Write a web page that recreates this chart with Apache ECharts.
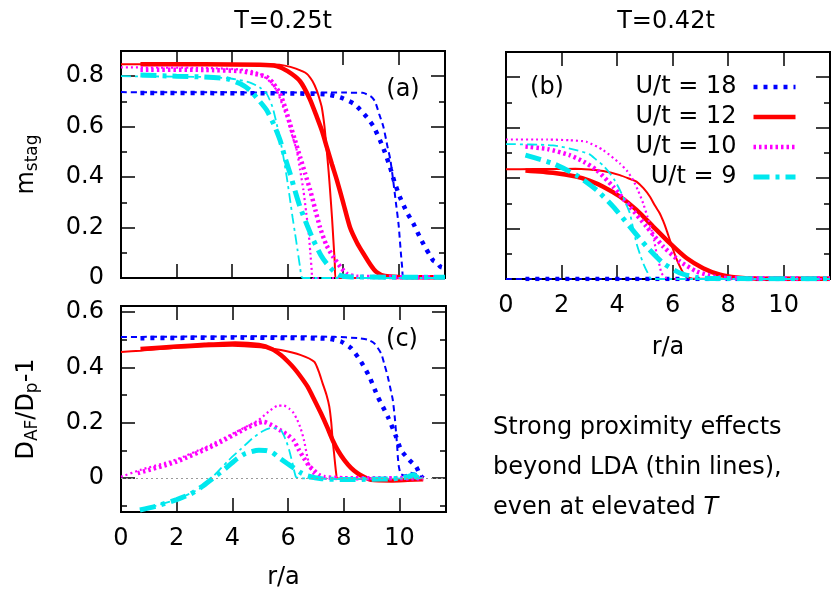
<!DOCTYPE html>
<html>
<head>
<meta charset="utf-8">
<script src="https://cdn.jsdelivr.net/npm/echarts@6.0.0/dist/echarts.min.js"></script>
<style>
  html, body { margin: 0; padding: 0; background: #fff; }
  #chart { width: 831px; height: 591px; }
</style>
</head>
<body>
<div id="chart"></div>
<script>
// ---- data: [r/a, value] ----
// (a) m_stag, T=0.25t
const aU18thick = [[0.7,0.733],[3,0.733],[6,0.732],[7.4,0.728],[7.9,0.716],[8.4,0.69],[8.85,0.638],[9.1,0.6],[9.33,0.546],[9.5,0.5],[9.69,0.44],[9.85,0.38],[10.05,0.32],[10.3,0.26],[10.53,0.216],[10.75,0.165],[10.95,0.123],[11.1,0.095],[11.24,0.07],[11.4,0.06],[11.5,0.045],[11.67,0.04]]
const aU18thin = [[0,0.737],[2,0.736],[4,0.736],[6,0.735],[8,0.735],[8.7,0.734],[9.0,0.72],[9.15,0.7],[9.3,0.65],[9.45,0.6],[9.6,0.52],[9.7,0.47],[9.8,0.39],[9.9,0.3],[10.0,0.21],[10.08,0.1],[10.13,0.04],[10.18,0],[11.67,0]]
const aU12thick = [[0.7,0.847],[3,0.847],[5,0.845],[5.6,0.84],[6.0,0.82],[6.45,0.78],[6.8,0.71],[7.05,0.64],[7.25,0.58],[7.41,0.52],[7.6,0.45],[7.77,0.39],[8.0,0.3],[8.25,0.2],[8.5,0.14],[8.73,0.097],[9.0,0.05],[9.2,0.024],[9.5,0.008],[10,0.004],[11.67,0.003]]
const aU12thin = [[0,0.847],[3,0.847],[5.5,0.846],[5.9,0.842],[6.3,0.83],[6.69,0.81],[6.9,0.78],[7.05,0.744],[7.15,0.71],[7.23,0.678],[7.33,0.6],[7.41,0.506],[7.48,0.42],[7.53,0.348],[7.6,0.24],[7.65,0.15],[7.7,0.06],[7.73,0],[11.67,0]]
const aU10thick = [[0.7,0.826],[3,0.825],[4.3,0.82],[4.8,0.81],[5.25,0.797],[5.5,0.77],[5.73,0.73],[5.9,0.68],[6.09,0.61],[6.27,0.545],[6.45,0.48],[6.63,0.415],[6.81,0.35],[7.0,0.27],[7.17,0.2],[7.4,0.13],[7.65,0.083],[7.9,0.045],[8.13,0.017],[8.5,0.005],[11.67,0.003]]
const aU10thin = [[0,0.835],[3,0.833],[4.5,0.825],[5.0,0.81],[5.3,0.785],[5.61,0.744],[5.8,0.69],[5.97,0.638],[6.15,0.57],[6.33,0.506],[6.45,0.43],[6.57,0.348],[6.67,0.26],[6.75,0.189],[6.82,0.1],[6.87,0.03],[6.9,0],[11.67,0]]
const aU9thick = [[0.7,0.805],[2,0.8],[3.0,0.797],[3.81,0.79],[4.3,0.77],[4.65,0.744],[5.0,0.7],[5.25,0.665],[5.5,0.61],[5.73,0.546],[5.9,0.48],[6.09,0.414],[6.27,0.345],[6.45,0.281],[6.7,0.21],[6.93,0.15],[7.2,0.09],[7.41,0.057],[7.65,0.028],[7.89,0.01],[8.3,0.004],[11.67,0.003]]
const aU9thin = [[0,0.8],[3,0.797],[4.0,0.79],[4.65,0.775],[5.0,0.755],[5.25,0.73],[5.45,0.68],[5.61,0.61],[5.75,0.54],[5.85,0.48],[5.97,0.4],[6.09,0.31],[6.18,0.24],[6.27,0.176],[6.36,0.11],[6.45,0.044],[6.55,0],[11.67,0]]

// (b) m_stag, T=0.42t
const bU18thick = [[0.7,0],[11.67,0]]
const bU18thin = [[0,0],[11.67,0]]
const bU12thick = [[0.7,0.43],[1.69,0.421],[2.53,0.406],[3.0,0.39],[3.5,0.366],[4.1,0.327],[4.7,0.274],[5.3,0.208],[5.9,0.142],[6.5,0.083],[7.1,0.043],[7.71,0.017],[8.3,0.006],[9,0.002],[11.67,0.001]]
const bU12thin = [[0,0.435],[1,0.436],[1.69,0.436],[2.5,0.437],[3.0,0.434],[3.5,0.428],[4.1,0.412],[4.5,0.395],[4.7,0.386],[4.95,0.36],[5.18,0.327],[5.37,0.29],[5.54,0.26],[5.66,0.23],[5.78,0.195],[5.9,0.155],[6.02,0.116],[6.14,0.08],[6.26,0.05],[6.38,0.025],[6.5,0.01],[6.7,0.002],[11.67,0]]
const bU10thick = [[0.7,0.525],[1.5,0.515],[2.29,0.491],[2.8,0.465],[3.26,0.432],[3.86,0.366],[4.46,0.287],[5.06,0.208],[5.66,0.129],[6.26,0.07],[6.87,0.03],[7.47,0.01],[8,0.004],[11.67,0.002]]
const bU10thin = [[0,0.553],[1.5,0.553],[2.29,0.55],[2.9,0.544],[3.5,0.511],[4.1,0.458],[4.35,0.43],[4.58,0.392],[4.76,0.35],[4.94,0.3],[5.1,0.245],[5.24,0.195],[5.34,0.15],[5.42,0.103],[5.52,0.06],[5.6,0.024],[5.75,0.005],[6,0],[11.67,0]]
const bU9thick = [[0.7,0.491],[1.69,0.458],[2.53,0.412],[3.26,0.353],[3.86,0.287],[4.46,0.208],[5.06,0.129],[5.66,0.063],[6.26,0.024],[6.87,0.006],[7.5,0.002],[11.67,0.001]]
const bU9thin = [[0,0.535],[1.69,0.53],[2.53,0.511],[3.0,0.495],[3.26,0.472],[3.5,0.45],[3.74,0.419],[3.92,0.39],[4.1,0.353],[4.28,0.31],[4.46,0.261],[4.58,0.2],[4.7,0.142],[4.82,0.1],[4.94,0.063],[5.1,0.025],[5.24,0],[11.67,0]]

// (c) D_AF/D_p - 1, T=0.25t
const cU18thick = [[0.7,0.505],[4,0.507],[7.41,0.503],[7.9,0.493],[8.26,0.469],[8.62,0.42],[8.92,0.366],[9.22,0.294],[9.58,0.222],[9.88,0.149],[10.06,0.101],[10.36,0.065],[10.6,0.041],[10.75,0.01],[10.85,0]]
const cU18thin = [[0,0.509],[3,0.511],[6,0.512],[7.65,0.51],[8.5,0.505],[8.85,0.5],[9.1,0.486],[9.34,0.45],[9.46,0.41],[9.58,0.366],[9.67,0.325],[9.76,0.282],[9.83,0.22],[9.88,0.161],[9.92,0.11],[9.94,0.077],[9.98,0.04],[10.05,0.015],[10.2,0.01],[10.4,0.02],[10.6,0.015],[10.85,0]]
const cU12thick = [[0.7,0.466],[2,0.475],[3,0.481],[4.1,0.486],[4.95,0.48],[5.43,0.465],[5.74,0.444],[6.0,0.42],[6.22,0.396],[6.46,0.365],[6.7,0.33],[6.94,0.283],[7.18,0.234],[7.4,0.185],[7.6,0.137],[7.8,0.098],[8.02,0.065],[8.25,0.038],[8.5,0.017],[8.75,0.003],[8.98,-0.006],[9.7,-0.008],[10.3,-0.006],[10.85,-0.004]]
const cU12thin = [[0,0.455],[0.7,0.46],[2,0.47],[4,0.478],[5,0.472],[5.74,0.462],[6.46,0.444],[6.94,0.42],[7.1,0.385],[7.24,0.342],[7.38,0.3],[7.48,0.258],[7.55,0.2],[7.6,0.137],[7.65,0.09],[7.69,0.05],[7.73,0.015],[7.76,0],[8.5,-0.002],[9.5,-0.005],[10.85,-0.005]]
const cU10thick = [[0.6,0.018],[2,0.06],[3.33,0.118],[4.53,0.182],[4.9,0.198],[5.13,0.203],[5.4,0.192],[5.73,0.172],[6.0,0.155],[6.21,0.135],[6.4,0.1],[6.57,0.072],[6.75,0.045],[6.93,0.028],[7.1,0.012],[7.29,0.004],[8,0],[10.85,0]]
const cU10thin = [[0,0.005],[0.7,0.03],[2,0.068],[3,0.11],[4,0.16],[4.93,0.209],[5.3,0.24],[5.65,0.262],[5.85,0.262],[6.05,0.25],[6.2,0.235],[6.33,0.21],[6.45,0.18],[6.57,0.137],[6.69,0.077],[6.8,0.035],[6.93,0.012],[7.05,0],[8,-0.002],[10.85,0]]
const cU9thick = [[0.68,-0.115],[1.3,-0.1],[2,-0.077],[2.5,-0.057],[2.9,-0.031],[3.3,0],[3.75,0.035],[4.1,0.065],[4.47,0.089],[4.95,0.101],[5.2,0.1],[5.43,0.093],[5.7,0.072],[5.97,0.053],[6.22,0.036],[6.45,0.02],[6.7,0.008],[7.2,-0.002],[8,-0.005],[9,-0.004],[9.8,-0.002],[10.3,0.005],[10.5,0.012],[10.7,0],[10.85,0]]
const cU9thin = [[0.68,-0.115],[2,-0.077],[2.9,-0.033],[3.3,0.005],[3.87,0.065],[4.3,0.105],[4.71,0.143],[5.1,0.17],[5.43,0.182],[5.74,0.173],[5.92,0.137],[6.04,0.101],[6.16,0.053],[6.28,0.005],[6.4,0],[8,-0.003],[10.85,0]]

// ---- axes ticks ----
const X_MAX = 11.67
const xTicks = [2, 4, 6, 8, 10]
const xLabels = [0, 2, 4, 6, 8, 10]
const mMajor = [0, 0.2, 0.4, 0.6, 0.8]
const mMinor = [0.1, 0.3, 0.5, 0.7]
const dMajor = [0, 0.2, 0.4, 0.6]
const dMinor = [-0.1, 0.1, 0.3, 0.5]
const legendNames = ['U/t = 18', 'U/t = 12', 'U/t = 10', 'U/t = 9']

const FONT = 'DejaVu Sans'
const txt = { color: '#000', fontFamily: FONT, fontSize: 24 }
const BLUE = '#0000ff'
const RED = '#ff0000'
const MAGENTA = '#ff00ff'
const CYAN = '#00e8ee'

const styles = {
  u18thick: { color: BLUE, width: 4.5, type: [4, 6] },
  u18thin: { color: BLUE, width: 2, type: [6, 4] },
  u12thick: { color: RED, width: 4.5, type: 'solid' },
  u12thin: { color: RED, width: 2, type: 'solid' },
  u10thick: { color: MAGENTA, width: 4.5, type: [2.5, 3] },
  u10thin: { color: MAGENTA, width: 2.2, type: [2, 3] },
  u9thick: { color: CYAN, width: 5, type: [16, 6, 4, 6] },
  u9thin: { color: CYAN, width: 1.8, type: [10, 4, 3, 4] }
}

const grids = [
  { left: 121, top: 51, width: 324, height: 227 }, // (a)
  { left: 506, top: 52, width: 324, height: 227 }, // (b)
  { left: 121, top: 306, width: 325, height: 206 } // (c)
].map(g => ({ ...g, show: true, borderColor: '#000', borderWidth: 2, backgroundColor: 'transparent' }))

const xAxis = []
const yAxis = []
const tickStyle = { color: '#000', width: 1.5 }

function panelAxes (gi, p) {
  for (const pos of ['bottom', 'top']) {
    const bottom = pos === 'bottom'
    xAxis.push({
      gridIndex: gi,
      type: 'value',
      position: pos,
      min: 0,
      max: X_MAX,
      axisLine: { show: false, onZero: false },
      splitLine: { show: false },
      axisTick: { show: true, inside: true, length: 14, customValues: xTicks, lineStyle: tickStyle },
      axisLabel: { show: bottom && p.xLabels, customValues: xLabels, margin: 15, ...txt },
      name: bottom && p.xLabels ? 'r/a' : '',
      nameLocation: 'middle',
      nameGap: p.xNameGap,
      nameTextStyle: txt
    })
  }
  for (const pos of ['left', 'right']) {
    for (const major of [true, false]) {
      const main = major && pos === 'left'
      yAxis.push({
        gridIndex: gi,
        type: 'value',
        position: pos,
        min: p.yMin,
        max: p.yMax,
        axisLine: { show: false, onZero: false },
        splitLine: { show: false },
        axisTick: { show: true, inside: true, length: major ? 14 : 6, customValues: major ? p.yMajor : p.yMinor, lineStyle: tickStyle },
        axisLabel: { show: main && p.yLabels, customValues: p.yMajor, margin: 17, ...txt },
        name: main && p.yName ? p.yName : '',
        nameLocation: 'middle',
        nameRotate: 90,
        nameGap: 80,
        nameTextStyle: {
          ...txt,
          rich: {
            m: { fontSize: 24, fontFamily: FONT, color: '#000', lineHeight: 28 },
            s: { fontSize: 17, fontFamily: FONT, color: '#000', lineHeight: 14, verticalAlign: 'bottom' }
          }
        }
      })
    }
  }
}

panelAxes(0, { xLabels: false, yLabels: true, yMin: 0, yMax: 0.9, yMajor: mMajor, yMinor: mMinor, yName: '{m|m}{s|stag}' })
panelAxes(1, { xLabels: true, xNameGap: 57, yLabels: false, yMin: 0, yMax: 0.9, yMajor: mMajor, yMinor: mMinor })
panelAxes(2, { xLabels: true, xNameGap: 54, yLabels: true, yMin: -0.122, yMax: 0.621, yMajor: dMajor, yMinor: dMinor, yName: '{m|D}{s|AF}{m|/D}{s|p}{m|-1}' })

function line (gi, name, data, st, extra) {
  return {
    type: 'line',
    name: name,
    xAxisIndex: 2 * gi,
    yAxisIndex: 4 * gi,
    data: data,
    symbol: 'none',
    smooth: 0.2,
    lineStyle: st,
    itemStyle: { color: st.color },
    silent: true,
    ...extra
  }
}

const series = []
const panels = [
  [aU18thick, aU18thin, aU12thick, aU12thin, aU10thick, aU10thin, aU9thick, aU9thin],
  [bU18thick, bU18thin, bU12thick, bU12thin, bU10thick, bU10thin, bU9thick, bU9thin],
  [cU18thick, cU18thin, cU12thick, cU12thin, cU10thick, cU10thin, cU9thick, cU9thin]
]
const keys = ['u18', 'u12', 'u10', 'u9']
panels.forEach((arrs, gi) => {
  if (gi === 2) {
    // dotted zero line in (c)
    series.push(line(2, 'zero', [], { color: '#999', width: 1 }, {
      markLine: {
        silent: true,
        symbol: 'none',
        label: { show: false },
        lineStyle: { color: '#999', type: [2, 3], width: 1 },
        data: [{ yAxis: 0 }]
      }
    }))
  }
  keys.forEach((k, i) => {
    series.push(line(gi, legendNames[i], arrs[2 * i], styles[k + 'thick']))
    series.push(line(gi, legendNames[i] + ' (thin)', arrs[2 * i + 1], styles[k + 'thin']))
  })
})

const option = {
  animation: false,
  backgroundColor: '#fff',
  grid: grids,
  xAxis: xAxis,
  yAxis: yAxis,
  legend: {
    data: legendNames,
    orient: 'vertical',
    right: 28,
    top: 69,
    align: 'right',
    itemWidth: 42,
    itemHeight: 14,
    itemGap: 4,
    selectedMode: false,
    itemStyle: { opacity: 0 },
    lineStyle: { width: 'inherit' },
    textStyle: { ...txt, lineHeight: 26, padding: [0, 12, 0, 0] }
  },
  graphic: [
    { type: 'text', x: 283, y: 22, style: { text: 'T=0.25t', align: 'center', verticalAlign: 'middle', ...txt, fill: '#000' } },
    { type: 'text', x: 666, y: 22, style: { text: 'T=0.42t', align: 'center', verticalAlign: 'middle', ...txt, fill: '#000' } },
    { type: 'text', x: 403, y: 90, style: { text: '(a)', align: 'center', verticalAlign: 'middle', ...txt, fill: '#000' } },
    { type: 'text', x: 547, y: 88, style: { text: '(b)', align: 'center', verticalAlign: 'middle', ...txt, fill: '#000' } },
    { type: 'text', x: 402, y: 340, style: { text: '(c)', align: 'center', verticalAlign: 'middle', ...txt, fill: '#000' } },
    {
      type: 'text',
      x: 493,
      y: 408,
      style: {
        text: 'Strong proximity effects\nbeyond LDA (thin lines),\neven at elevated {i|T}',
        align: 'left',
        verticalAlign: 'top',
        ...txt,
        fill: '#000',
        lineHeight: 40,
        rich: { i: { fontSize: 24, fontFamily: FONT, fontStyle: 'italic', lineHeight: 40, fill: '#000' } }
      }
    }
  ],
  series: series
}

const chart = echarts.init(document.getElementById('chart'), null, { renderer: 'canvas' })
chart.setOption(option)
</script>
</body>
</html>
